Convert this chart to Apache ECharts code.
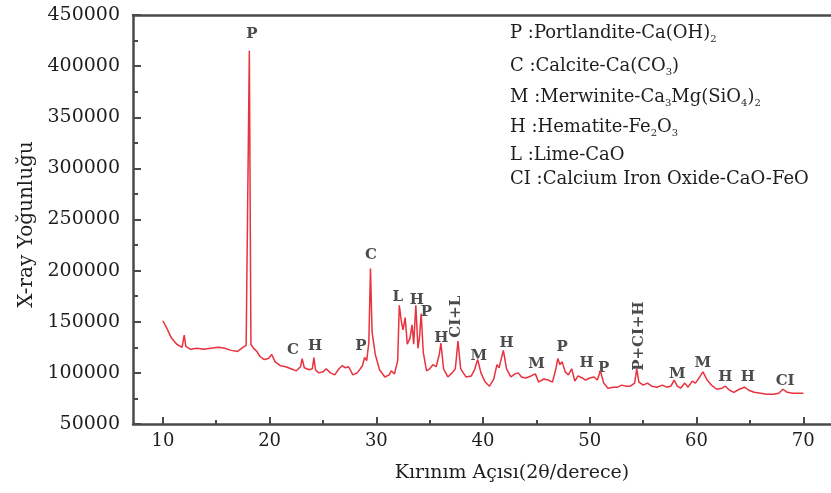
<!DOCTYPE html>
<html><head><meta charset="utf-8">
<script src="https://cdn.jsdelivr.net/npm/echarts@6/dist/echarts.min.js"></script>
<style>html,body{margin:0;padding:0;background:#fff}#c{width:831px;height:493px}</style>
</head><body><div id="c"></div>
<script>
// ---- data ----
const twoTheta = [10.0,10.4,10.8,11.3,11.8,12.0,12.15,12.6,13.2,13.8,14.5,15.2,15.8,16.4,17.0,17.5,17.8,17.95,18.1,18.25,18.5,18.8,19.1,19.5,19.9,20.2,20.5,21.0,21.5,22.0,22.5,22.9,23.05,23.25,23.7,24.0,24.15,24.3,24.6,25.0,25.3,25.7,26.1,26.5,26.8,27.1,27.4,27.8,28.2,28.5,28.7,28.9,29.1,29.3,29.45,29.6,29.9,30.3,30.8,31.2,31.4,31.7,32.0,32.15,32.35,32.5,32.7,32.9,33.15,33.35,33.5,33.7,33.9,34.05,34.2,34.4,34.7,35.0,35.3,35.6,35.9,36.05,36.3,36.7,37.1,37.4,37.65,37.9,38.4,38.9,39.2,39.5,39.8,40.2,40.6,41.0,41.3,41.5,41.9,42.2,42.6,43.0,43.3,43.6,44.0,44.5,44.9,45.2,45.7,46.1,46.5,46.8,47.0,47.2,47.4,47.7,48.0,48.3,48.6,48.9,49.3,49.6,50.0,50.4,50.7,51.0,51.3,51.7,52.2,52.6,53.0,53.4,53.8,54.2,54.4,54.6,55.0,55.4,55.8,56.3,56.8,57.2,57.6,57.9,58.2,58.5,58.9,59.2,59.6,59.9,60.3,60.6,61.0,61.4,61.9,62.4,62.7,63.1,63.5,64.0,64.5,64.9,65.4,66.0,66.6,67.2,67.7,68.1,68.5,69.0,69.5,70.0];
const intensity = [151000,143000,134000,128000,125000,137000,126000,123000,124000,123000,124000,125000,124000,122000,121000,125000,127000,126000,415000,128000,124000,121000,116000,113000,114000,118000,111000,107000,106000,104000,102000,106000,114000,105000,103000,104000,115000,103000,100000,101000,104000,100000,98000,104000,107000,105000,106000,98000,100000,104000,107000,115000,112000,130000,202000,140000,118000,103000,96000,98000,102000,99000,112000,166000,150000,142000,154000,128000,134000,147000,128000,166000,124000,135000,158000,120000,102000,104000,108000,106000,118000,129000,104000,96000,100000,104000,131000,104000,96000,97000,103000,113000,100000,91000,87000,94000,108000,105000,122000,104000,96000,99000,100000,96000,95000,97000,99000,91000,94000,93000,91000,103000,114000,108000,111000,101000,98000,104000,92000,97000,95000,93000,95000,96000,93000,102000,90000,85000,86000,86000,88000,87000,87000,90000,104000,91000,88000,90000,87000,86000,88000,86000,87000,93000,87000,85000,90000,86000,92000,90000,96000,101000,93000,88000,84000,85000,87000,83000,81000,84000,86000,83000,81000,80000,79000,79000,80000,84000,81000,80000,80000,80000];
const xTicks = [10,20,30,40,50,60,70];
const xMinorTicks = [15,25,35,45,55,65];
const peakLabelText = ['P','C','H','P','C','L','H','P','H','CI+L','M','H','M','P','H','P','P+CI+H','M','M','H','H','CI'];
const peakLabelX = [18.35,22.2,24.25,28.55,29.5,32.0,33.8,34.7,36.1,37.45,39.6,42.2,45.0,47.4,49.7,51.3,54.6,58.2,60.6,62.7,64.8,68.3];
const peakLabelY = [431000,122000,126000,126000,215000,174000,171000,159000,134000,155000,116000,129000,108500,125000,109500,104500,136000,99000,109500,96000,96000,92000];
const peakLabelRotate = [0,0,0,0,0,0,0,0,0,90,0,0,0,0,0,0,90,0,0,0,0,0];
const legendLines = [
  [['P :Portlandite-Ca(OH)',0],['2',1]],
  [['C :Calcite-Ca(CO',0],['3',1],[')',0]],
  [['M :Merwinite-Ca',0],['3',1],['Mg(SiO',0],['4',1],[')',0],['2',1]],
  [['H :Hematite-Fe',0],['2',1],['O',0],['3',1]],
  [['L :Lime-CaO',0]],
  [['CI :Calcium Iron Oxide-CaO-FeO',0]]
];
const yAxisTitle = 'X-ray Yoğunluğu';
const xAxisTitle = 'Kırınım Açısı(2θ/derece)';

// ---- build ----
const FONT = 'DejaVu Serif';
const TXT = '#1e1e1e';
const AX = '#4a4a4a';
const xMin = 7.2, xMax = 72.6;
const lineData = twoTheta.map((x, i) => [x, intensity[i]]);
const labelData = peakLabelText.map((t, i) => ({
  value: [peakLabelX[i], peakLabelY[i], t],
  label: { rotate: peakLabelRotate[i] }
}));
const legendTops = [24, 57, 88, 118, 146, 170];
const graphics = legendLines.map((segs, i) => ({
  type: 'text', left: 510, top: legendTops[i], silent: true,
  style: {
    text: segs.map(s => '{' + (s[1] ? 's' : 'n') + '|' + s[0] + '}').join(''),
    rich: {
      n: { fontFamily: FONT, fontSize: 18, fill: TXT, lineHeight: 22, verticalAlign: 'middle' },
      s: { fontFamily: FONT, fontSize: 10, fill: TXT, lineHeight: 12, verticalAlign: 'bottom' }
    }
  }
}));

const chart = echarts.init(document.getElementById('c'), null, { renderer: 'canvas' });
chart.setOption({
  animation: false,
  backgroundColor: '#fff',
  grid: [
    { left: 133, right: 0, top: 15, bottom: 69, containLabel: false },
    { left: 133, right: 0, top: 15, bottom: 69, containLabel: false }
  ],
  xAxis: [
    {
      type: 'value', gridIndex: 0, position: 'bottom', min: xMin, max: xMax,
      axisLine: { show: true, onZero: false, lineStyle: { color: AX, width: 2.5 } },
      axisTick: { show: true, inside: true, length: 7, customValues: xTicks, lineStyle: { color: AX, width: 2 } },
      axisLabel: { show: true, customValues: xTicks, margin: 8, fontFamily: FONT, fontSize: 18, color: TXT },
      splitLine: { show: false },
      name: xAxisTitle, nameLocation: 'middle', nameGap: 40,
      nameTextStyle: { fontFamily: FONT, fontSize: 19, color: TXT, padding: [0, 0, 0, 60] }
    },
    {
      type: 'value', gridIndex: 0, position: 'top', min: xMin, max: xMax,
      axisLine: { show: true, onZero: false, lineStyle: { color: AX, width: 2.5 } },
      axisTick: { show: false }, axisLabel: { show: false }, splitLine: { show: false }
    },
    {
      type: 'value', gridIndex: 1, position: 'bottom', min: xMin, max: xMax,
      axisLine: { show: false, onZero: false },
      axisTick: { show: true, inside: true, length: 4, customValues: xMinorTicks, lineStyle: { color: AX, width: 2 } },
      axisLabel: { show: false }, splitLine: { show: false }
    }
  ],
  yAxis: [
    {
      type: 'value', gridIndex: 0, min: 50000, max: 450000, interval: 50000,
      axisLine: { show: true, onZero: false, lineStyle: { color: AX, width: 2.5 } },
      axisTick: { show: true, inside: true, length: 8, lineStyle: { color: AX, width: 2 } },
      minorTick: { show: true, splitNumber: 2, length: 5, lineStyle: { color: AX, width: 2 } },
      axisLabel: { margin: 13, fontFamily: FONT, fontSize: 19, color: TXT, formatter: v => String(v) },
      splitLine: { show: false },
      name: yAxisTitle, nameLocation: 'middle', nameGap: 94,
      nameTextStyle: { fontFamily: FONT, fontSize: 20, color: TXT, padding: [0, 0, 0, -10] }
    },
    { type: 'value', gridIndex: 1, min: 50000, max: 450000, show: false }
  ],
  graphic: graphics,
  series: [
    {
      type: 'line', xAxisIndex: 0, yAxisIndex: 0, data: lineData,
      showSymbol: false, symbol: 'none', smooth: false,
      lineStyle: { color: '#e8323d', width: 1.5 }, silent: true
    },
    {
      type: 'scatter', xAxisIndex: 0, yAxisIndex: 0, data: labelData,
      symbolSize: 1, itemStyle: { color: 'rgba(0,0,0,0)' }, silent: true,
      label: {
        show: true, position: 'inside', fontFamily: FONT, fontWeight: 'bold',
        fontSize: 15, color: TXT, formatter: p => p.data.value[2]
      }
    }
  ]
});
</script></body></html>
